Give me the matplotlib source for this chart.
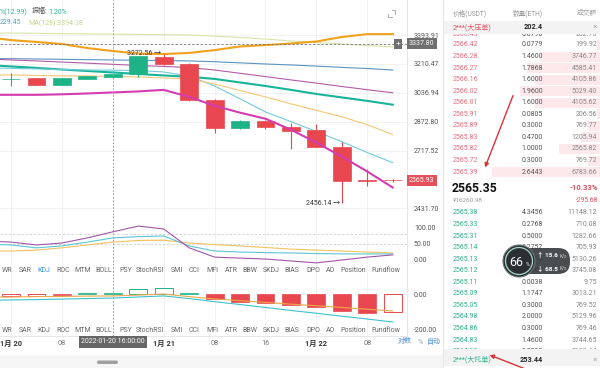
import numpy as np
import matplotlib
matplotlib.use("Agg")
import matplotlib.pyplot as plt
import matplotlib.transforms as mtransforms
from matplotlib.ticker import NullLocator, NullFormatter
from matplotlib.patches import Rectangle, FancyBboxPatch, Circle

plt.rcParams['font.family'] = ['Roboto', 'Noto Sans CJK SC', 'DejaVu Sans']

# 4h candles ETH/USDT from 2022-01-20 00:00
opens = [3117, 3122, 3083, 3119, 3131, 3147, 3255, 3210, 2996, 2836, 2875, 2845, 2829, 2738, 2568, 2566]
highs = [3155, 3125, 3124, 3139, 3151, 3262, 3272.56, 3214, 3000, 2880, 2880, 2867, 2862, 2764, 2625, 2575]
lows = [3077, 3080, 3080, 3117, 3125, 3131, 3205, 2990, 2813, 2834, 2834, 2727, 2735, 2456.14, 2540, 2560]
closes = [3120, 3083, 3122, 3137, 3149, 3260, 3210, 2996, 2840, 2878, 2845, 2823, 2738, 2565, 2564, 2565.93]

# moving averages (first value = one bar before first candle)
ma_orange = [3381, 3361, 3349, 3336, 3310, 3291, 3275, 3272, 3279, 3297, 3320, 3329, 3339, 3352, 3381, 3400, 3400]
ma_pale = [3407, 3407, 3405, 3403, 3401, 3400, 3398, 3396, 3394, 3387, 3378, 3368, 3355, 3345, 3336, 3326, 3317]
ma_blue = [3244, 3243, 3241, 3239, 3237, 3235, 3233, 3231, 3229, 3224, 3217, 3210, 3204, 3197, 3189, 3182, 3173]
ma_purple = [3241, 3235, 3229, 3222, 3215, 3208, 3201, 3195, 3188, 3173, 3153, 3133, 3113, 3094, 3074, 3055, 3037]
ma_teal = [3204, 3195, 3186, 3176, 3167, 3158, 3149, 3140, 3132, 3119, 3098, 3077, 3054, 3030, 3010, 2990, 2968]
ma_cyan = [3186, 3183, 3180, 3176, 3173, 3172, 3170, 3161, 3137, 3077, 3002, 2927, 2873, 2819, 2764, 2707, 2655]
ma_yellow = [3143, 3143, 3140, 3137, 3137, 3134, 3131, 3125, 3119, 3089, 3050, 3013, 2973, 2936, 2900, 2856, 2802]
ma_magenta = [3025, 3025, 3025, 3028, 3033, 3039, 3045, 3054, 3013, 2962, 2923, 2889, 2829, 2759, 2686, 2610, 2531]

price_ticks = [3393.91, 3210.47, 3036.94, 2872.80, 2717.52, 2431.70]
cross_price = 3337.80
last_price = 2565.93

# KDJ panel
kdj_j = [59, 56, 47, 53, 69, 88, 106, 97, 38, 9, 6, 3, -3, -9, 0, 9, 16]
kdj_d = [50, 47, 38, 44, 56, 69, 73, 75, 44, 28, 25, 23, 22, 20, 19, 19, 19]
kdj_k = [28, 28, 31, 38, 47, 56, 61, 62, 53, 48, 44, 39, 34, 31, 28, 25, 22]

# lower panel histogram + lines
hist = [-10, -10, -8, 5, 8, 28, 34, 5, -29, -46, -52, -63, -74, -97, -108, -103]
hist_hollow = [1, 1, 0, 0, 0, 1, 1, 0, 0, 0, 0, 0, 0, 0, 0, 1]
dif_line = [-18, -17, -15, -14, -12, -11, -6, 0, -15, -28, -38, -48, -58, -67, -77, -87, -97]
dea_line = [-36, -34, -32, -29, -26, -23, -17, -11, -26, -44, -60, -77, -94, -110, -127, -143, -160]

time_ticks = [0, 2, 6, 8, 10, 12, 14]
time_labels = ["1月 20", "08", "1月 21", "08", "16", "1月 22", "08"]

indicators = ["WR", "SAR", "KDJ", "ROC", "MTM", "BOLL", "PSY", "StochRSI", "SMI", "CCI",
              "MFI", "ATR", "BBW", "SKDJ", "BIAS", "DPO", "AO", "Position", "Fundflow"]
ind_x = [7, 25, 44, 63, 83, 104, 126, 150, 177, 194, 212, 231, 250, 271, 292, 313, 331, 353, 386]

# order book
ask_prices = ["2566.42", "2566.28", "2566.27", "2566.16", "2566.02", "2566.01",
              "2565.91", "2565.89", "2565.83", "2565.82", "2565.72", "2565.39"]
ask_amounts = ["0.0779", "1.4600", "1.7868", "1.6000", "1.9600", "1.6000",
               "0.0805", "0.3000", "0.4700", "1.0000", "0.3000", "2.6443"]
ask_totals = [199.92, 3746.77, 4585.41, 4105.86, 5029.40, 4105.62,
              206.56, 769.77, 1205.94, 2565.82, 769.72, 6783.66]
bid_prices = ["2565.38", "2565.33", "2565.31", "2565.14", "2565.13", "2565.12", "2565.11",
              "2565.09", "2565.05", "2564.98", "2564.86", "2564.83", "2564.82"]
bid_amounts = ["4.3456", "0.2768", "0.5000", "0.2752", "2.0000", "1.4600", "0.0038",
               "1.1747", "0.3000", "2.0000", "0.3000", "1.4600", "2.0000"]
bid_totals = [11148.12, 710.08, 1282.66, 705.93, 5130.26, 3745.08, 9.75,
              3013.21, 769.52, 5129.96, 769.46, 3744.65, 5129.64]

W, H = 600, 368
fig = plt.figure(figsize=(6, 3.68), dpi=100)

def px_axes(x0, y0, x1, y1):
    return fig.add_axes([x0 / W, 1 - y1 / H, (x1 - x0) / W, (y1 - y0) / H])

ax = px_axes(0, 0, 407, 215)
ax1 = px_axes(0, 215, 407, 282)
ax2 = px_axes(0, 282, 407, 336)

idx = np.arange(16)
line_idx = np.arange(-1, 16)
UP = '#1db386'
DOWN = '#e8474f'
GRID = '#f0f0f0'

for a in (ax, ax1, ax2):
    a.set_xlim(-0.432, 15.56)
    for i in range(0, 16, 2):
        a.axvline(i, color=GRID, lw=0.6, zorder=0)
    a.axvline(4, color='#9a9a9a', lw=0.7, ls=(0, (1.5, 2)), zorder=6)
    for s in ('top', 'left'):
        a.spines[s].set_visible(False)
    a.spines['right'].set_color('#e3e3e3')
    a.spines['bottom'].set_color('#e3e3e3')
    a.spines['right'].set_linewidth(0.6)
    a.spines['bottom'].set_linewidth(0.6)
    a.yaxis.tick_right()
    a.tick_params(axis='y', length=0, pad=5, labelsize=5, labelcolor='#555')
    a.tick_params(axis='x', length=0)

# main price panel
ax.set_yscale('log')
ax.set_ylim(2400.6, 3630.5)
ax.yaxis.set_minor_locator(NullLocator())
ax.yaxis.set_minor_formatter(NullFormatter())
ax.set_yticks(price_ticks)
ax.set_yticklabels([f"{v:.2f}" for v in price_ticks])
ax.set_xticks([])
for v in price_ticks:
    ax.axhline(v, color=GRID, lw=0.6, zorder=0)

ax.plot(line_idx, ma_pale, color='#d6e4a6', lw=0.8, zorder=2)
ax.plot(line_idx, ma_orange, color='#f0a21c', lw=1.5, zorder=2)
ax.plot(line_idx, ma_blue, color='#5b93c4', lw=0.8, zorder=2)
ax.plot(line_idx, ma_purple, color='#b35ba8', lw=0.8, zorder=2)
ax.plot(line_idx, ma_teal, color='#17b49a', lw=1.5, zorder=2)
ax.plot(line_idx, ma_cyan, color='#70cbd8', lw=0.8, zorder=2)
ax.plot(line_idx, ma_yellow, color='#f3c877', lw=0.8, zorder=2)
ax.plot(line_idx, ma_magenta, color='#d43db0', lw=1.5, zorder=5)

for i in idx:
    o, h, l, c = opens[i], highs[i], lows[i], closes[i]
    col = UP if c >= o else DOWN
    ax.vlines(i, l, h, color=col, lw=0.8, zorder=3)
    lo, hi = min(o, c), max(o, c)
    ax.add_patch(Rectangle((i - 0.35, lo), 0.7, hi - lo, fc=col, ec=col, lw=0.5, zorder=4))

ax.axhline(cross_price, color='#777777', lw=0.6, ls=(0, (3, 2)), zorder=6)
trans = mtransforms.blended_transform_factory(ax.transAxes, ax.transData)
ax.text(1 + 2 / 407, cross_price, "3337.80", transform=trans, ha='left', va='center',
        fontsize=5, color='white', clip_on=False, zorder=10,
        bbox=dict(boxstyle='square,pad=0.3', fc='#6f6f6f', ec='none'))
ax.text(1 - 9 / 407, cross_price, "+", transform=trans, ha='center', va='center',
        fontsize=6, color='white', clip_on=False, zorder=10,
        bbox=dict(boxstyle='square,pad=0.25', fc='#6f6f6f', ec='none'))
ax.text(1 + 2 / 407, last_price, f"{last_price:.2f}", transform=trans, ha='left', va='center',
        fontsize=5, color='white', clip_on=False, zorder=10,
        bbox=dict(boxstyle='square,pad=0.3', fc='#e5505a', ec='none'))
ax.text(5.9, highs[6], "3272.56 →", ha='right', va='center', fontsize=5, color='#333', zorder=7)
ax.text(12.95, lows[13], "2456.14 →", ha='right', va='center', fontsize=5, color='#333', zorder=7)

# KDJ panel
ax1.set_ylim(-68.75, 140.6)
ax1.set_yticks([100, 50, 0])
ax1.set_yticklabels(["100.00", "50.00", "0.00"])
ax1.set_xticks([])
for v in (80, 50):
    ax1.axhline(v, color='#d0d0d0', lw=0.6, ls=(0, (3, 2)), zorder=1)
ax1.plot(line_idx, kdj_k, color='#f2c25e', lw=0.8)
ax1.plot(line_idx, kdj_d, color='#5cc6d4', lw=0.8)
ax1.plot(line_idx, kdj_j, color='#a255a8', lw=0.8)

# histogram panel
ax2.set_ylim(-240, 68.6)
ax2.set_yticks([0, -200])
ax2.set_yticklabels(["0.00", "-200.00"])
for i in idx:
    v = hist[i]
    col = UP if v >= 0 else DOWN
    if hist_hollow[i]:
        ax2.add_patch(Rectangle((i - 0.35, 0), 0.7, v, fc='white', ec=col, lw=0.7, zorder=3))
    else:
        ax2.add_patch(Rectangle((i - 0.35, 0), 0.7, v, fc=col, ec=col, lw=0.5, zorder=3))
ax2.plot(line_idx, dif_line, color='#f0a64a', lw=0.8, zorder=4)
ax2.plot(line_idx, dea_line, color='#3cc1cf', lw=0.8, zorder=4)
ax2.set_xticks(time_ticks)
ax2.set_xticklabels(time_labels)
ax2.tick_params(axis='x', pad=3, labelsize=5.3)
for lbl in ax2.get_xticklabels():
    if "月" in lbl.get_text():
        lbl.set_color('#333333')
        lbl.set_fontweight('bold')
    else:
        lbl.set_color('#777777')
ax2.text(4, -0.11, "2022-01-20 16:00:00", transform=mtransforms.blended_transform_factory(ax2.transData, ax2.transAxes),
         ha='center', va='center', fontsize=5, color='white', clip_on=False, zorder=10,
         bbox=dict(boxstyle='square,pad=0.35', fc='#666666', ec='none'))

# overlay in pixel coordinates
ov = fig.add_axes([0, 0, 1, 1], zorder=20)
ov.set_xlim(0, W)
ov.set_ylim(H, 0)
ov.axis('off')

TEAL_TXT = '#2db39a'
ov.text(0, 12, "%(12.99)", color=TEAL_TXT, fontsize=5, va='center')
ov.text(32, 12, "振幅:", color='#555', fontsize=5, va='center')
ov.text(48, 12, "1.20%", color=TEAL_TXT, fontsize=5, va='center')
ov.text(0, 23, "229.45", color='#4fa3c7', fontsize=5, va='center')
ov.text(28, 23, "MA(128):3394.38", color='#c5d88e', fontsize=5, va='center')
ov.plot([388, 388, 391.5], [13.5, 17, 17], color='#a0a0a0', lw=0.6)
ov.plot([391.5, 395, 395], [10, 10, 13.5], color='#a0a0a0', lw=0.6)

for name, x in zip(indicators, ind_x):
    ov.text(x, 271, name, ha='center', va='center', fontsize=5,
            color='#3a8ee6' if name == "KDJ" else '#666')
    ov.text(x, 330, name, ha='center', va='center', fontsize=5, color='#666')

ov.text(398, 342, "对数", color='#4a8fd8', fontsize=5, va='center')
ov.text(418, 342, "%", color='#999', fontsize=5, va='center')
ov.text(427, 342, "自动", color='#4a8fd8', fontsize=5, va='center')

ov.add_patch(Rectangle((0, 355), 443, 13, fc='#f5f5f5', ec='none'))
ov.add_patch(FancyBboxPatch((97, 360.5), 21, 3.5, boxstyle='round,pad=0,rounding_size=1.7',
                            fc='#a0a0a0', ec='none'))
ov.plot([443, 443], [0, 368], color='#e6e6e6', lw=0.8)

# order book
ov.text(453, 13, "价格(USDT)", fontsize=4.8, color='#999', va='center')
ov.text(543, 13, "数量(ETH)", fontsize=4.8, color='#999', va='center', ha='right')
ov.text(597, 13, "成交额", fontsize=4.8, color='#999', va='center', ha='right')

ASK = '#e66f7d'
BID = '#33b08e'
# the row hidden under the "大压单" bar only shows its lower half
top_clip = Rectangle((444, 33.5), 156, 20, transform=ov.transData)
for x, s, c, ha in ((453, "2566.45", ASK, 'left'), (543, "0.0790", '#555', 'right'),
                    (597, "202.75", '#888', 'right')):
    t = ov.text(x, 34, s, fontsize=5, color=c, va='center', ha=ha, zorder=1)
    t.set_clip_path(top_clip)
ov.add_patch(Rectangle((444, 21), 156, 12.5, fc='#f3f3f3', ec='none', zorder=2))
ov.text(453, 27, "2***(大压单)", fontsize=5, color='#e05666', va='center', zorder=3)
ov.text(543, 27, "202.4", fontsize=5.2, color='#222', va='center', ha='right', weight='bold', zorder=3)
ov.text(597, 27, "×", fontsize=6, color='#aaa', va='center', ha='right', zorder=3)

max_total = max(ask_totals)
for k, (p, a, t) in enumerate(zip(ask_prices, ask_amounts, ask_totals)):
    y = 45 + 11.55 * k
    w = t / max_total * 108
    ov.add_patch(Rectangle((600 - w, y - 5), w, 10, fc='#fde8eb', ec='none', zorder=1))
    ov.text(453, y, p, fontsize=5, color=ASK, va='center', zorder=3)
    ov.text(543, y, a, fontsize=5, color='#555', va='center', ha='right', zorder=3)
    ov.text(597, y, f"{t:.2f}", fontsize=5, color='#888', va='center', ha='right', zorder=3)

ov.text(452, 188, "2565.35", fontsize=8.8, weight='bold', color='#111', va='center')
ov.text(598, 188, "-10.33%", fontsize=5.5, weight='bold', color='#e0505f', va='center', ha='right')
ov.text(453, 200, "¥16260.98", fontsize=4.6, color='#999', va='center')
ov.text(598, 200, "-295.68", fontsize=4.8, color='#e0505f', va='center', ha='right')

bottom_clip = Rectangle((444, 200), 156, 149, transform=ov.transData)
for k, (p, a, t) in enumerate(zip(bid_prices, bid_amounts, bid_totals)):
    y = 213 + 11.55 * k
    for x, s, c, ha in ((453, p, BID, 'left'), (543, a, '#555', 'right'),
                        (597, f"{t:.2f}", '#888', 'right')):
        txt = ov.text(x, y, s, fontsize=5, color=c, va='center', ha=ha, zorder=1)
        txt.set_clip_path(bottom_clip)

ov.add_patch(Rectangle((444, 349), 156, 17, fc='#f3f3f3', ec='none', zorder=2))
ov.text(453, 359.5, "2***(大托单)", fontsize=5, color=BID, va='center', zorder=3)
ov.text(543, 359.5, "253.44", fontsize=5.2, color='#222', va='center', ha='right', weight='bold', zorder=3)
ov.text(597, 359.5, "×", fontsize=6, color='#aaa', va='center', ha='right', zorder=3)

# floating net-speed widget (covers part of the bid rows, as on the phone)
ov.add_patch(FancyBboxPatch((508, 248), 62, 26, boxstyle='round,pad=0,rounding_size=12',
                            fc='#3b3f43', ec='none', alpha=0.93, zorder=5))
ov.add_patch(Circle((519, 261), 16, fc='#2b2f33', ec='#6d7675', lw=0.8, zorder=6))
ov.add_patch(Circle((519, 261), 13.5, fill=False, ec='#a9d8cf', lw=0.9, zorder=7))
ov.text(516, 262, "66", fontsize=9, color='white', ha='center', va='center', zorder=8)
ov.text(527.5, 265, "%", fontsize=4, color='white', ha='center', va='center', zorder=8)
ov.text(537, 255, "↑ 15.6", fontsize=4.6, color='white', va='center', zorder=8, weight='bold')
ov.text(560, 255.5, "K/s", fontsize=3.4, color='#ccc', va='center', zorder=8)
ov.text(537, 268, "↓ 68.5", fontsize=4.6, color='white', va='center', zorder=8, weight='bold')
ov.text(560, 268.5, "K/s", fontsize=3.4, color='#ccc', va='center', zorder=8)

# red hand-drawn arrows
ov.annotate('', xy=(484, 170), xytext=(514, 93),
            arrowprops=dict(arrowstyle='-|>', color='#d9343c', lw=1.0, mutation_scale=6), zorder=9)
ov.annotate('', xy=(487, 354), xytext=(528, 370),
            arrowprops=dict(arrowstyle='-|>', color='#d9343c', lw=1.0, mutation_scale=6), zorder=9)

fig.savefig("out.png", dpi=100)
